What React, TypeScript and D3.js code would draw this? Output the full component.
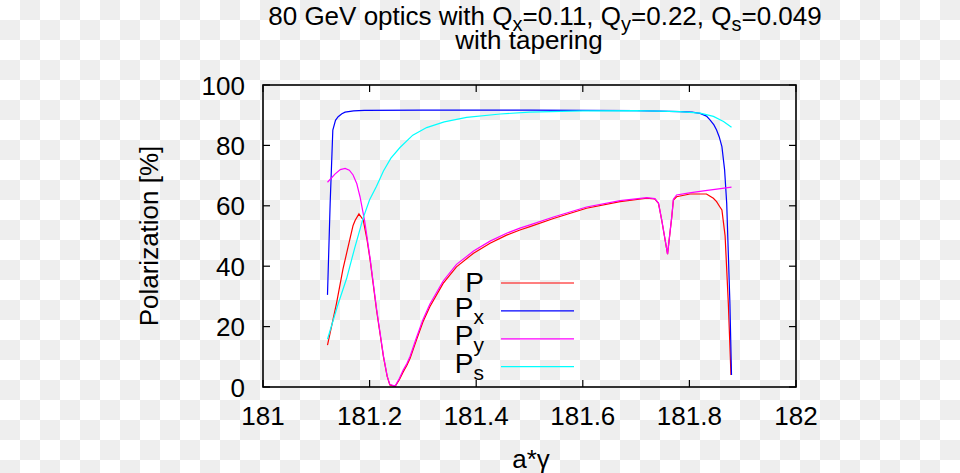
import * as d3 from 'd3';

// a*gamma vs polarization [%]
const P_DATA: [number, number][] = [
  [181.121, 13.9], [181.138, 27.8], [181.150, 39], [181.163, 49], [181.169, 53.5], [181.173, 55.2],
  [181.180, 57.3], [181.188, 55.3], [181.195, 49], [181.201, 42], [181.213, 25.5], [181.226, 10],
  [181.233, 3.5], [181.238, 0.7], [181.248, 0.2], [181.256, 2.5], [181.263, 5.0], [181.270, 7.2],
  [181.276, 9.5], [181.288, 15.6], [181.300, 21.5], [181.313, 26.6], [181.338, 34.3], [181.363, 39.8],
  [181.395, 44.3], [181.426, 47.6], [181.457, 50.3], [181.482, 52.0], [181.501, 53.1], [181.545, 55.8],
  [181.607, 59.2], [181.670, 61.4], [181.720, 62.5], [181.735, 62.3], [181.742, 60.8], [181.748, 55.3],
  [181.759, 44], [181.767, 56.4], [181.770, 61.9], [181.776, 63], [181.801, 63.9], [181.832, 63.9],
  [181.845, 62.5], [181.851, 61.4], [181.857, 59.7], [181.861, 58.6], [181.867, 50], [181.873, 27.8],
  [181.878, 4],
];

const PX_DATA: [number, number][] = [
  [181.121, 30.5], [181.126, 60.8], [181.131, 85.1], [181.136, 88.3], [181.141, 89.5], [181.148, 90.5],
  [181.154, 91.0], [181.170, 91.4], [181.190, 91.6], [181.300, 91.7], [181.500, 91.7], [181.700, 91.5],
  [181.782, 91.2], [181.805, 91.0], [181.820, 90.6], [181.832, 89.7], [181.839, 88.4], [181.846, 86.8],
  [181.851, 85.1], [181.856, 82.8], [181.861, 79.6], [181.866, 72], [181.870, 60.8], [181.876, 27.7],
  [181.879, 4.0],
];

const PY_DATA: [number, number][] = [
  [181.121, 67.8], [181.135, 70.5], [181.145, 72], [181.154, 72.4], [181.162, 71.8], [181.169, 70.2],
  [181.176, 67.3], [181.182, 63], [181.191, 54.7], [181.201, 42.5], [181.213, 26], [181.226, 10.3],
  [181.233, 3.6], [181.238, 0.8], [181.248, 0.3], [181.256, 2.9], [181.263, 5.6], [181.270, 7.8],
  [181.276, 10.2], [181.288, 16.4], [181.300, 22.3], [181.313, 27.4], [181.338, 35.1], [181.363, 40.6],
  [181.395, 45.0], [181.426, 48.3], [181.457, 50.9], [181.482, 52.6], [181.501, 53.7], [181.545, 56.3],
  [181.607, 59.6], [181.670, 61.7], [181.720, 62.7], [181.735, 62.4], [181.742, 60.9], [181.748, 55.4],
  [181.759, 44], [181.767, 56.6], [181.770, 62.2], [181.776, 63.6], [181.800, 64.3], [181.830, 65.0],
  [181.855, 65.6], [181.879, 66.2],
];

const PS_DATA: [number, number][] = [
  [181.121, 15.8], [181.140, 27], [181.157, 36], [181.172, 46], [181.188, 56], [181.200, 62],
  [181.213, 66.5], [181.226, 71.5], [181.240, 75.8], [181.257, 79.3], [181.281, 83.4], [181.307, 85.9],
  [181.340, 87.8], [181.382, 89.3], [181.445, 90.4], [181.500, 91.0], [181.600, 91.4], [181.700, 91.5],
  [181.782, 91.2], [181.820, 90.7], [181.845, 89.6], [181.864, 87.9], [181.879, 86],
];

const X_TICKS = [181, 181.2, 181.4, 181.6, 181.8, 182];
const Y_TICKS = [0, 20, 40, 60, 80, 100];

const SERIES = [
  { name: 'P', sub: '', color: '#ff0000', data: P_DATA },
  { name: 'P', sub: 'x', color: '#0000ff', data: PX_DATA },
  { name: 'P', sub: 'y', color: '#ff00ff', data: PY_DATA },
  { name: 'P', sub: 's', color: '#00ffff', data: PS_DATA },
];

const W = 960, H = 473;
const L = 263, R = 796, T = 85, B = 387;
const FONT = '"Liberation Sans", Arial, Helvetica, sans-serif';

export default function App() {
  const x = d3.scaleLinear().domain([181, 182]).range([L, R]);
  const y = d3.scaleLinear().domain([0, 100]).range([B, T]);
  const line = d3.line<[number, number]>().x((d) => x(d[0])).y((d) => y(d[1]));
  const tick = 7;

  return (
    <svg width={W} height={H} style={{ position: 'absolute', left: 0, top: 0 }} fontFamily={FONT}>
      <defs>
        <pattern id="checker" width={40} height={40} patternUnits="userSpaceOnUse">
          <rect width={40} height={40} fill="#ffffff" />
          <rect x={20} y={0} width={20} height={20} fill="#eeeeee" />
          <rect x={0} y={20} width={20} height={20} fill="#eeeeee" />
        </pattern>
      </defs>
      <rect width={W} height={H} fill="url(#checker)" />

      {/* title */}
      <text x={545} y={25} fontSize={26} textAnchor="middle" fill="#000">
        80 GeV optics with Q<tspan fontSize={20} dy={6}>x</tspan>
        <tspan dy={-6}>=0.11, Q</tspan><tspan fontSize={20} dy={6}>y</tspan>
        <tspan dy={-6}>=0.22, Q</tspan><tspan fontSize={20} dy={6}>s</tspan>
        <tspan dy={-6}>=0.049</tspan>
      </text>
      <text x={529} y={49} fontSize={26} textAnchor="middle" fill="#000">with tapering</text>

      {/* ticks */}
      {X_TICKS.map((v) => (
        <g key={'x' + v}>
          <line x1={x(v)} x2={x(v)} y1={B} y2={B - tick} stroke="#000" strokeWidth={1.2} />
          <line x1={x(v)} x2={x(v)} y1={T} y2={T + tick} stroke="#000" strokeWidth={1.2} />
          <text x={x(v)} y={425} fontSize={26} textAnchor="middle" fill="#000">{String(v)}</text>
        </g>
      ))}
      {Y_TICKS.map((v) => (
        <g key={'y' + v}>
          <line x1={L} x2={L + tick} y1={y(v)} y2={y(v)} stroke="#000" strokeWidth={1.2} />
          <line x1={R} x2={R - tick} y1={y(v)} y2={y(v)} stroke="#000" strokeWidth={1.2} />
          <text x={245} y={y(v) + 9.5} fontSize={26} textAnchor="end" fill="#000">{String(v)}</text>
        </g>
      ))}

      {/* axis labels */}
      <text x={531} y={468} fontSize={26} textAnchor="middle" fill="#000">a*γ</text>
      <text transform={`translate(158,${(T + B) / 2}) rotate(-90)`} fontSize={26} textAnchor="middle" fill="#000">
        Polarization [%]
      </text>

      {/* curves and key, drawn in plot order */}
      {SERIES.map((s, i) => {
        const ky = 283 + i * 27.9;
        return (
          <g key={s.name + s.sub}>
            <text x={484} y={ky + (s.sub ? 6.5 : 8.5)} fontSize={28} textAnchor="end" fill="#000">
              {s.name}
              {s.sub && <tspan fontSize={21} dy={7}>{s.sub}</tspan>}
            </text>
            <line x1={501} x2={574} y1={ky} y2={ky} stroke={s.color} strokeWidth={1.2} />
            <path d={line(s.data) ?? ''} fill="none" stroke={s.color} strokeWidth={1.2} />
          </g>
        );
      })}

      {/* frame */}
      <rect x={L} y={T} width={R - L} height={B - T} fill="none" stroke="#000" strokeWidth={1.6} />
    </svg>
  );
}
